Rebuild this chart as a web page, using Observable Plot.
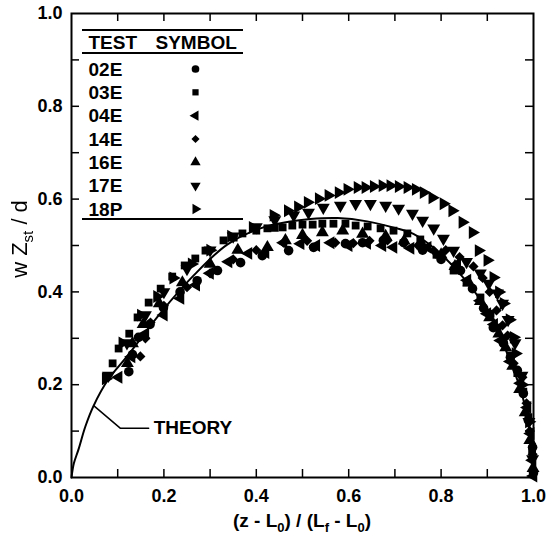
<!DOCTYPE html>
<html>
<head>
<meta charset="utf-8">
<script src="https://cdn.jsdelivr.net/npm/d3@7"></script>
<script src="https://cdn.jsdelivr.net/npm/@observablehq/plot@0.6"></script>
<style>
  html, body { margin: 0; padding: 0; background: #fff; }
  #chart { width: 548px; height: 534px; }
  .ytitle { filter: grayscale(1); }
</style>
</head>
<body>
<div id="chart"></div>
<script>
// ---------- data ----------
const xTickLabels = [0, 0.2, 0.4, 0.6, 0.8, 1.0];
const yTickLabels = [0, 0.2, 0.4, 0.6, 0.8, 1.0];
const minorTicks = [0.1, 0.2, 0.3, 0.4, 0.5, 0.6, 0.7, 0.8, 0.9];

const tests = ["02E", "03E", "04E", "14E", "16E", "17E", "18P"];

const x02E = [0.124,0.132,0.145,0.17,0.199,0.235,0.272,0.316,0.366,0.413,0.47,0.524,0.593,0.63,0.675,0.719,0.76,0.80,0.842,0.868,0.892,0.913,0.935,0.95,0.965,0.978,0.989,0.998,1.0];
const y02E = [0.228,0.265,0.302,0.33,0.366,0.40,0.424,0.446,0.463,0.478,0.489,0.496,0.504,0.506,0.511,0.506,0.49,0.47,0.446,0.407,0.365,0.323,0.289,0.259,0.231,0.181,0.123,0.065,0.01];

const x03E = [0.089,0.102,0.125,0.143,0.167,0.193,0.218,0.245,0.268,0.290,0.329,0.351,0.37,0.40,0.424,0.44,0.457,0.478,0.5,0.522,0.543,0.567,0.593,0.615,0.641,0.669,0.697,0.727,0.755,0.79,0.827,0.855,0.885,0.907,0.922,0.935,0.95,0.965,0.978,0.989,0.997];
const y03E = [0.246,0.278,0.31,0.345,0.377,0.407,0.433,0.457,0.472,0.489,0.511,0.517,0.526,0.532,0.537,0.538,0.539,0.543,0.545,0.545,0.547,0.547,0.547,0.543,0.541,0.537,0.532,0.526,0.513,0.48,0.446,0.42,0.388,0.353,0.323,0.295,0.263,0.225,0.185,0.13,0.06];

const x04E = [0.102,0.13,0.16,0.2,0.236,0.27,0.30,0.340,0.383,0.42,0.459,0.496,0.53,0.561,0.60,0.64,0.673,0.697,0.734,0.771,0.80,0.835,0.857,0.885,0.90,0.915,0.929,0.95,0.972,0.987,0.994,0.998,1.0];
const y04E = [0.216,0.26,0.31,0.35,0.386,0.415,0.44,0.465,0.483,0.485,0.506,0.504,0.50,0.506,0.50,0.505,0.5,0.496,0.494,0.496,0.48,0.46,0.425,0.381,0.353,0.33,0.295,0.25,0.203,0.151,0.095,0.037,0.003];

const x14E = [0.149,0.160,0.171,0.20,0.25,0.30,0.35,0.40,0.459,0.51,0.571,0.61,0.645,0.684,0.72,0.75,0.784,0.81,0.84,0.87,0.89,0.905,0.92,0.933,0.944,0.957,0.976,0.985,0.992,0.998];
const y14E = [0.261,0.300,0.334,0.37,0.41,0.44,0.47,0.49,0.506,0.51,0.506,0.505,0.51,0.511,0.505,0.50,0.489,0.49,0.475,0.455,0.43,0.40,0.36,0.328,0.306,0.246,0.216,0.16,0.10,0.05];

const x16E = [0.121,0.132,0.155,0.19,0.24,0.30,0.36,0.424,0.463,0.5,0.543,0.587,0.63,0.68,0.72,0.76,0.8,0.83,0.86,0.885,0.905,0.925,0.94,0.955,0.97,0.982,0.992,0.999];
const y16E = [0.246,0.289,0.33,0.375,0.42,0.46,0.49,0.496,0.511,0.522,0.528,0.532,0.525,0.52,0.51,0.50,0.48,0.455,0.42,0.38,0.345,0.31,0.28,0.24,0.19,0.14,0.08,0.02];

const x17E = [0.08,0.12,0.16,0.2,0.25,0.3,0.35,0.40,0.44,0.481,0.513,0.545,0.582,0.615,0.647,0.68,0.708,0.738,0.76,0.784,0.805,0.827,0.855,0.885,0.903,0.922,0.933,0.945,0.96,0.975,0.99,0.998];
const y17E = [0.22,0.29,0.35,0.40,0.45,0.49,0.52,0.54,0.555,0.565,0.571,0.582,0.586,0.59,0.59,0.586,0.580,0.569,0.554,0.537,0.515,0.489,0.465,0.440,0.418,0.397,0.375,0.34,0.29,0.22,0.12,0.04];

const x18P = [0.074,0.11,0.15,0.185,0.22,0.26,0.30,0.345,0.392,0.437,0.468,0.49,0.511,0.535,0.556,0.578,0.597,0.619,0.636,0.654,0.673,0.690,0.708,0.727,0.745,0.762,0.781,0.805,0.824,0.846,0.868,0.881,0.9,0.913,0.925,0.935,0.948,0.957,0.961,0.975,0.99];
const y18P = [0.213,0.29,0.35,0.39,0.43,0.46,0.49,0.52,0.539,0.565,0.575,0.583,0.593,0.601,0.608,0.614,0.621,0.625,0.625,0.627,0.629,0.629,0.627,0.625,0.621,0.614,0.603,0.590,0.575,0.55,0.528,0.489,0.468,0.431,0.40,0.375,0.34,0.302,0.267,0.2,0.12];

const theoryX = [0, 0.005, 0.015, 0.03, 0.048, 0.078, 0.121, 0.193, 0.264, 0.337, 0.409, 0.47, 0.517, 0.576, 0.64, 0.70, 0.74, 0.79, 0.84, 0.88, 0.92, 0.95, 0.975, 0.99, 1.0];
const theoryY = [0, 0.03, 0.06, 0.11, 0.155, 0.209, 0.262, 0.355, 0.435, 0.502, 0.537, 0.551, 0.557, 0.559, 0.552, 0.538, 0.525, 0.49, 0.44, 0.39, 0.32, 0.25, 0.18, 0.11, 0];

// annotation leader for "THEORY"
const leaderX = [0.048, 0.106, 0.167];
const leaderY = [0.155, 0.106, 0.106];
const theoryLabel = "THEORY";

// ---------- styles ----------
const seriesX = [x02E, x03E, x04E, x14E, x16E, x17E, x18P];
const seriesY = [y02E, y03E, y04E, y14E, y16E, y17E, y18P];
const symbolShape = ["circle", "square", "triangle", "diamond2", "triangle", "triangle", "triangle"];
const symbolRotate = [0, 0, -90, 0, 0, 180, 90];
const symbolR = [4.8, 4.4, 4.8, 4.6, 4.8, 4.8, 4.8];

const W = 548, H = 534, mL = 71, mR = 15, mT = 13, mB = 57;
const plotW = W - mL - mR, plotH = H - mT - mB;
const tickLen = 8;
const FONT = "'Liberation Sans', Arial, Helvetica, sans-serif";

const table = tests.map((t, i) => seriesX[i].map((x, j) => ({test: t, x, y: seriesY[i][j]})));
const theory = theoryX.map((x, i) => ({x, y: theoryY[i]}));
const leader = leaderX.map((x, i) => ({x, y: leaderY[i]}));

const legendTop = 56, legendStep = 23.33;

const marks = [
  // inward ticks on all four sides
  Plot.tickX(minorTicks, {x: d => d, insetTop: plotH - tickLen, strokeWidth: 1.5}),
  Plot.tickX(minorTicks, {x: d => d, insetBottom: plotH - tickLen, strokeWidth: 1.5}),
  Plot.tickY(minorTicks, {y: d => d, insetRight: plotW - tickLen, strokeWidth: 1.5}),
  Plot.tickY(minorTicks, {y: d => d, insetLeft: plotW - tickLen, strokeWidth: 1.5}),
  Plot.axisX({ticks: xTickLabels, tickSize: 0, tickPadding: 12, tickFormat: d3.format(".1f"), label: null, fontSize: 18, fontWeight: "bold"}),
  Plot.axisY({ticks: yTickLabels, tickSize: 0, tickPadding: 9, tickFormat: d3.format(".1f"), label: null, fontSize: 18, fontWeight: "bold"}),
  Plot.frame({strokeWidth: 2}),
  Plot.line(theory, {x: "x", y: "y", curve: "catmull-rom", strokeWidth: 2}),
  Plot.line(leader, {x: "x", y: "y", strokeWidth: 1.5}),
  Plot.text([theoryLabel], {x: () => leaderX[2], y: () => leaderY[2], text: d => d, textAnchor: "start", dx: 5, fontSize: 19, fontWeight: "bold"}),
  ...table.map((rows, i) => Plot.dot(rows, {x: "x", y: "y", symbol: symbolShape[i], rotate: symbolRotate[i], r: symbolR[i], fill: "black", stroke: "none"})),
  // legend
  Plot.text(["TEST"], {frameAnchor: "top-left", dx: 17, dy: 29, text: d => d, textAnchor: "start", lineAnchor: "middle", fontSize: 19, fontWeight: "bold"}),
  Plot.text(["SYMBOL"], {frameAnchor: "top-left", dx: 84, dy: 29, text: d => d, textAnchor: "start", lineAnchor: "middle", fontSize: 19, fontWeight: "bold"}),
  ...tests.map((t, i) => Plot.text([t], {frameAnchor: "top-left", dx: 17, dy: legendTop + i * legendStep, text: d => d, textAnchor: "start", lineAnchor: "middle", fontSize: 19, fontWeight: "bold"})),
  ...tests.map((t, i) => Plot.dot([t], {frameAnchor: "top-left", dx: 124, dy: legendTop - 0.5 + i * legendStep, symbol: symbolShape[i], rotate: symbolRotate[i], r: symbolR[i] * 0.8, fill: "black"}))
];

const chart = Plot.plot({
  width: W, height: H,
  marginLeft: mL, marginRight: mR, marginTop: mT, marginBottom: mB,
  x: {domain: [0, 1]},
  y: {domain: [0, 1]},
  style: {fontFamily: FONT, fontSize: "18px", color: "black", background: "white", overflow: "visible"},
  marks
});

// legend rules and axis titles (with subscripts)
const svg = d3.select(chart);
const g = svg.append("g").attr("stroke", "black").attr("stroke-width", 1.8);
[17, 40, 206].forEach(dy => {
  g.append("line").attr("x1", mL + 11).attr("x2", mL + 172).attr("y1", mT + dy).attr("y2", mT + dy);
});

function label(parts, attrs, size, subSize, shift) {
  const t = svg.append("text")
    .attr("font-family", FONT).attr("font-size", size).attr("font-weight", "bold")
    .attr("fill", "#000").attr("text-anchor", "middle");
  Object.entries(attrs).forEach(([k, v]) => t.attr(k, v));
  let shifted = false;
  parts.forEach(([s, sub]) => {
    const ts = t.append("tspan").text(s);
    if (sub && !shifted) { ts.attr("dy", shift).attr("font-size", subSize); shifted = true; }
    else if (!sub && shifted) { ts.attr("dy", -shift); shifted = false; }
    else if (sub) ts.attr("font-size", subSize);
  });
  return t;
}
label([["(z - L"], ["0", true], [") / (L"], ["f", true], [" - L"], ["0", true], [")"]], {x: mL + plotW / 2, y: 527}, 19, 13, 5);
label([["w Z"], ["st", true], [" / d"]], {transform: `translate(27, ${mT + plotH / 2 - 6}) rotate(-90)`, "font-weight": "normal", class: "ytitle"}, 22, 15, 6);

document.getElementById("chart").appendChild(chart);
</script>
</body>
</html>
